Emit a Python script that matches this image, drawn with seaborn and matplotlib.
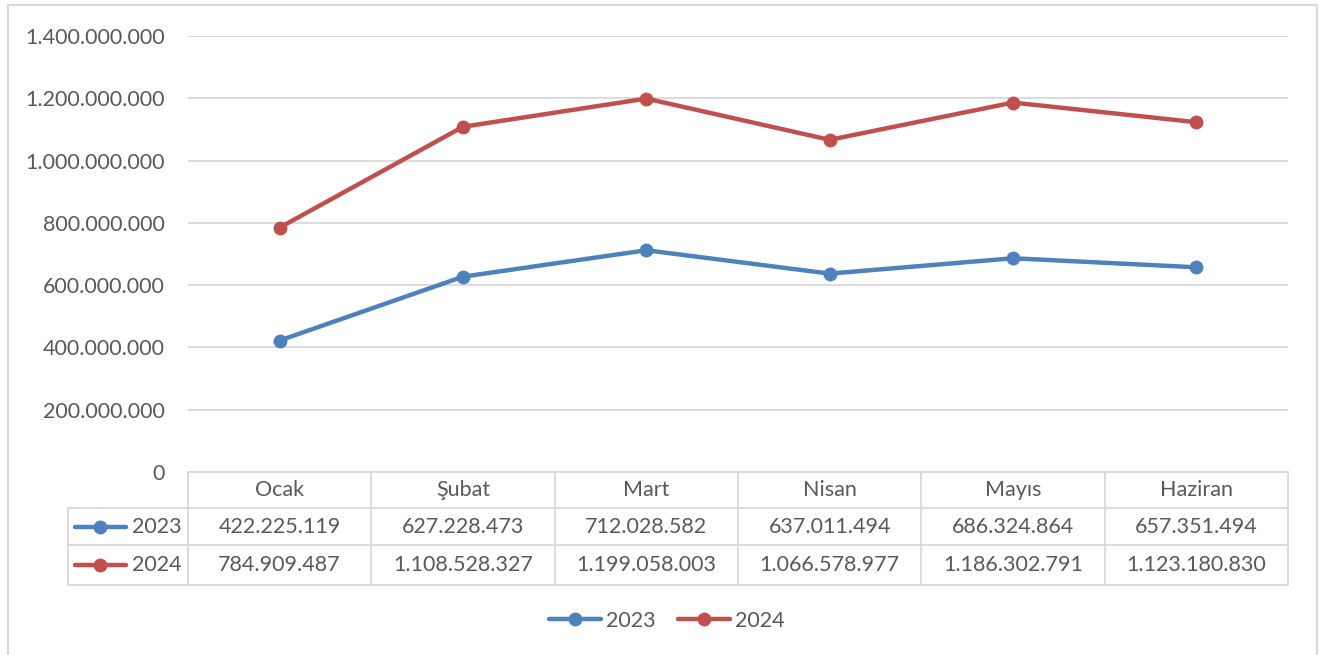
import pandas as pd
import seaborn as sns
import matplotlib.pyplot as plt
from matplotlib.lines import Line2D
from matplotlib.patches import Rectangle

# Monthly values
months = ['Ocak', 'Şubat', 'Mart', 'Nisan', 'Mayıs', 'Haziran']
values_2023 = [422225119, 627228473, 712028582, 637011494, 686324864, 657351494]
values_2024 = [784909487, 1108528327, 1199058003, 1066578977, 1186302791, 1123180830]
years = ['2023', '2024']
colors = {'2023': '#4f81bd', '2024': '#c0504d'}

df = pd.DataFrame({
    'month': months * 2,
    'pos': list(range(len(months))) * 2,
    'value': values_2023 + values_2024,
    'year': ['2023'] * len(months) + ['2024'] * len(months),
})

sns.set_style('white')
plt.rcParams['font.family'] = ['Lato', 'DejaVu Sans']
text_color = '#595959'
grid_color = '#d9d9d9'
fs = 15.5

fig = plt.figure(figsize=(13.24, 6.55), dpi=100)
ax = fig.add_axes([188 / 1324, 183 / 655, 1100 / 1324, 436 / 655])

sns.lineplot(data=df, x='pos', y='value', hue='year', palette=colors,
             marker='o', markersize=10, markeredgewidth=0, linewidth=3.2,
             ax=ax, legend=False)

ax.set_xlim(-0.5, len(months) - 0.5)
ax.set_ylim(0, 1.4e9)
ax.set_yticks(range(0, 1400000001, 200000000))
ax.set_yticklabels([f'{int(v):,}'.replace(',', '.') for v in ax.get_yticks()],
                   color=text_color, fontsize=fs)
ax.tick_params(axis='y', length=0, pad=16.5)
ax.set_xticks([])
ax.set_xlabel('')
ax.set_ylabel('')
ax.grid(axis='y', color=grid_color, linewidth=1.3)
ax.set_axisbelow(True)
for s in ax.spines.values():
    s.set_visible(False)

# data table under the axis
tr = ax.get_xaxis_transform()
row_edges = [0, -36 / 436, -73 / 436, -113 / 436]
row_centers = [-18 / 436, -55 / 436, -93 / 436]
left_x = -0.5 - 120 / 183.33
border = dict(color=grid_color, linewidth=1.3, transform=tr, clip_on=False)

ax.plot([-0.5, 5.5], [row_edges[0]] * 2, **border)
for y in row_edges[1:]:
    ax.plot([left_x, 5.5], [y, y], **border)
for i in range(len(months) + 1):
    ax.plot([i - 0.5, i - 0.5], [row_edges[0], row_edges[3]], **border)
ax.plot([left_x, left_x], [row_edges[1], row_edges[3]], **border)

for i, m in enumerate(months):
    ax.text(i, row_centers[0], m, transform=tr, ha='center', va='center',
            fontsize=fs, color=text_color)
for r, (yr, vals) in enumerate(zip(years, [values_2023, values_2024])):
    yc = row_centers[r + 1]
    for i, v in enumerate(vals):
        ax.text(i, yc, f'{v:,}'.replace(',', '.'), transform=tr, ha='center',
                va='center', fontsize=fs, color=text_color)
    lx0 = left_x + 7 / 183.33
    lx1 = left_x + 58 / 183.33
    ax.plot([lx0, lx1], [yc, yc], color=colors[yr], linewidth=3.2,
            solid_capstyle='round', transform=tr, clip_on=False)
    ax.plot([(lx0 + lx1) / 2], [yc], 'o', color=colors[yr], markersize=10,
            markeredgewidth=0, transform=tr, clip_on=False)
    ax.text(left_x + 89 / 183.33, yc, yr, transform=tr, ha='center',
            va='center', fontsize=fs, color=text_color)

# bottom legend
handles = [Line2D([0], [0], color=colors[y], linewidth=3.2, marker='o',
                  markersize=10, markeredgewidth=0, solid_capstyle='round')
           for y in years]
leg = fig.legend(handles, years, loc='center', bbox_to_anchor=(667 / 1324, 34 / 655),
                 ncol=2, frameon=False, fontsize=fs, handlelength=2.4,
                 handletextpad=0.25, columnspacing=1.05)
for t in leg.get_texts():
    t.set_color(text_color)

# outer chart border
fig.patches.append(Rectangle((8 / 1324, -0.05), 1309 / 1324, 0.05 + 650 / 655,
                             transform=fig.transFigure, fill=False,
                             edgecolor=grid_color, linewidth=1.5))

fig.savefig('out.png', dpi=100)
